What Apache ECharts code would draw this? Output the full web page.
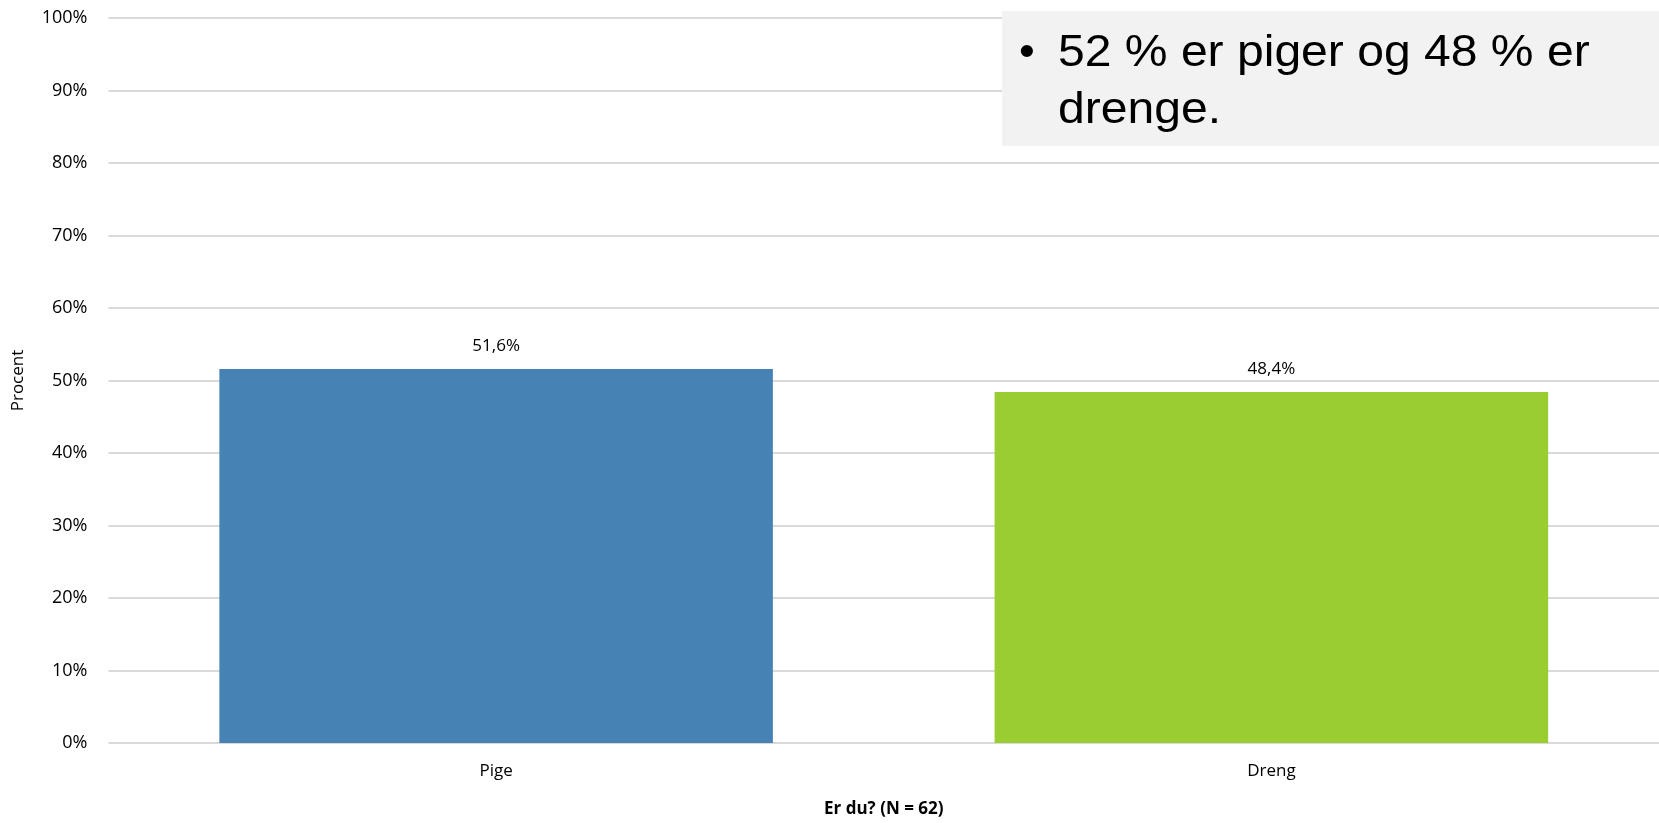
<!DOCTYPE html>
<html>
<head>
<meta charset="utf-8">
<script src="https://cdn.jsdelivr.net/npm/echarts@6/dist/echarts.min.js"></script>
<style>
  html, body { margin: 0; padding: 0; background: #fff; overflow: hidden; }
  #chart { width: 1659px; height: 823px; }
</style>
</head>
<body>
<div id="chart"></div>
<script>
// Survey answers: gender distribution
const categories = ['Pige', 'Dreng'];
const percentages = [51.6, 48.4];
const barColors = ['#4682b4', '#9acd32'];
const yTicks = [0, 10, 20, 30, 40, 50, 60, 70, 80, 90, 100];
const xAxisTitle = 'Er du? (N = 62)';
const yAxisTitle = 'Procent';
const noteLines = ['52 % er piger og 48 % er', 'drenge.'];

const baseFont = '"Open Sans", sans-serif';
const noteFont = '45px "Liberation Sans", Arial, sans-serif';
const chart = echarts.init(document.getElementById('chart'));

chart.setOption({
  animation: false,
  grid: { left: 108.5, right: -9.5, top: 18, bottom: 73, containLabel: false },
  xAxis: {
    type: 'category',
    data: categories,
    name: xAxisTitle,
    nameLocation: 'middle',
    nameGap: 58,
    nameTextStyle: { fontFamily: baseFont, fontSize: 17, fontWeight: 'bold', color: '#000' },
    axisLine: { show: false },
    axisTick: { show: false },
    axisLabel: { fontFamily: baseFont, fontSize: 17, color: '#000', margin: 20 }
  },
  yAxis: {
    type: 'value',
    min: yTicks[0],
    max: yTicks[yTicks.length - 1],
    interval: yTicks[1] - yTicks[0],
    name: yAxisTitle,
    nameLocation: 'middle',
    nameRotate: 90,
    nameGap: 82,
    nameTextStyle: { fontFamily: baseFont, fontSize: 17, color: '#000' },
    axisLine: { show: false },
    axisTick: { show: false },
    axisLabel: { fontFamily: baseFont, fontSize: 18, color: '#000', margin: 21, formatter: v => v + '%' },
    splitLine: { lineStyle: { color: '#d9d9d9', width: 2 } }
  },
  series: [{
    type: 'bar',
    barCategoryGap: '28.6%',
    data: percentages.map((v, i) => ({ value: v, itemStyle: { color: barColors[i] } })),
    label: {
      show: true,
      position: 'top',
      distance: 14,
      fontFamily: baseFont,
      fontSize: 17,
      color: '#000',
      formatter: p => p.value.toFixed(1).replace('.', ',') + '%'
    }
  }],
  graphic: [
    {
      type: 'rect',
      shape: { x: 1002, y: 11, width: 700, height: 135 },
      style: { fill: '#f2f2f2' },
      z: 100
    },
    {
      type: 'text',
      x: 1019, y: 54,
      style: { text: '•', font: noteFont, fill: '#000', verticalAlign: 'middle' },
      z: 101
    },
    {
      type: 'text',
      x: 1058, y: 54, scaleX: 1.068,
      style: { text: noteLines[0], font: noteFont, fill: '#000', verticalAlign: 'middle' },
      z: 101
    },
    {
      type: 'text',
      x: 1058, y: 111, scaleX: 1.068,
      style: { text: noteLines[1], font: noteFont, fill: '#000', verticalAlign: 'middle' },
      z: 101
    }
  ]
});
</script>
</body>
</html>
